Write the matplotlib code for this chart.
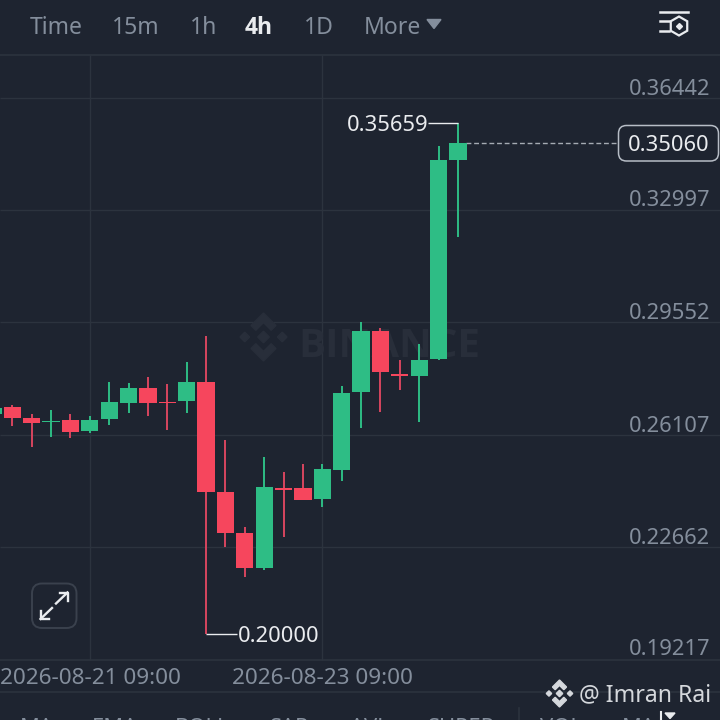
import matplotlib
matplotlib.use("Agg")
import matplotlib.pyplot as plt
from matplotlib.patches import FancyBboxPatch, Polygon, RegularPolygon

# ── Data ───────────────────────────────────────────────────────────────────────

opens = [0.26741, 0.26947, 0.26628, 0.26487, 0.26548, 0.26211, 0.26588, 0.27088, 0.27538, 0.27119,
         0.27131, 0.27722, 0.24360, 0.23085, 0.22021, 0.24464, 0.24473, 0.24127, 0.25025, 0.27407,
         0.29286, 0.27968, 0.27906, 0.28418, 0.34527]
closes = [0.26941, 0.26628, 0.26466, 0.26527, 0.26199, 0.26567, 0.27100, 0.27538, 0.27069, 0.27069,
          0.27732, 0.24360, 0.23085, 0.22012, 0.24513, 0.24412, 0.24106, 0.25047, 0.27385, 0.29276,
          0.28020, 0.27897, 0.28406, 0.34527, 0.35060]
highs = [0.26941, 0.27017, 0.26732, 0.26864, 0.26732, 0.26671, 0.27722, 0.27682, 0.27876, 0.27652,
         0.28345, 0.29141, 0.25935, 0.23287, 0.25414, 0.24955, 0.25200, 0.25200, 0.27600, 0.29552,
         0.29368, 0.28387, 0.28878, 0.34956, 0.35659]
lows = [0.26741, 0.26374, 0.25739, 0.26046, 0.25997, 0.26159, 0.26404, 0.26772, 0.26689, 0.26242,
        0.26772, 0.20000, 0.22674, 0.21755, 0.21969, 0.22981, 0.24106, 0.23900, 0.24688, 0.26303,
        0.26803, 0.27477, 0.26506, 0.28400, 0.32176]

price_ticks = [0.36442, 0.32997, 0.29552, 0.26107, 0.22662, 0.19217]
date_ticks = [5, 17]
date_labels = ["2026-08-21 09:00", "2026-08-23 09:00"]
last_price = 0.35060
high_mark = 0.35659
low_mark = 0.20000
tabs = ["Time", "15m", "1h", "4h", "1D", "More"]
indicators = ["MA", "EMA", "BOLL", "SAR", "AVL", "SUPER", "VOL", "MA"]

BG = "#1E2430"
GRID = "#2C333E"
GREEN = "#2EBD85"
RED = "#F6465D"
RED_WICK = "#D8455F"
MUTED = "#848E9C"
WHITE = "#EAECEF"
WATERMARK = "#282E3A"

plt.rcParams["font.family"] = ["Noto Sans", "DejaVu Sans"]
FS = 15.8

fig = plt.figure(figsize=(7.2, 7.2), dpi=100, facecolor=BG)

# ── Price panel: full figure, limits set so that prices land on the gridlines ──

ax = fig.add_axes([0, 0, 1, 1], facecolor=BG)
ax.set_xlim(0.366, 37.52)
ax.set_ylim(0.17363, 0.39431)
ax.axis("off")

ax.hlines(price_ticks[:-1], 0.366, 37.52, color=GRID, linewidth=1, zorder=1)
ax.vlines(date_ticks, 0.19217, 0.37745, color=GRID, linewidth=1, zorder=1)

# watermark text
ax.text(15.74, 0.2880, "BINANCE", color=WATERMARK, fontsize=29, fontweight="bold",
        family="Open Sans", ha="left", va="center", zorder=1.5)

for i, (o, c, h, l) in enumerate(zip(opens, closes, highs, lows)):
    up = c >= o
    ax.vlines(i, l, h, color=GREEN if up else RED_WICK, linewidth=1.4, zorder=2)
    ax.bar(i, abs(c - o), bottom=min(o, c), width=0.89, color=GREEN if up else RED, zorder=3)

# last price dashed line
ax.hlines(last_price, 24.4, 32.15, color="#A5ABB3", linewidth=1, linestyles=(0, (3.5, 2)), zorder=2)

# high / low callouts
ax.hlines(high_mark, 22.45, 24, color=WHITE, linewidth=1, zorder=4)
ax.hlines(low_mark, 11, 12.6, color=WHITE, linewidth=1, zorder=4)
ax.annotate(f"{high_mark:.5f}", (22.5, high_mark), xytext=(0, -1.5), textcoords="offset points",
            color=WHITE, fontsize=FS, ha="right", va="center", zorder=5)
ax.annotate(f"{low_mark:.5f}", (12.65, low_mark), xytext=(0, -1.5), textcoords="offset points",
            color=WHITE, fontsize=FS, ha="left", va="center", zorder=5)

# ── Interface chrome in pixel coordinates ──────────────────────────────────────

ui = fig.add_axes([0, 0, 1, 1], facecolor="none")
ui.set_xlim(0, 720)
ui.set_ylim(720, 0)
ui.axis("off")


def binance_logo(cx, cy, r, color, zorder=2):
    top = [(0, -1), (0.52, -0.48), (0.32, -0.28), (0, -0.6), (-0.32, -0.28), (-0.52, -0.48)]
    for sign in (1, -1):
        ui.add_patch(Polygon([(cx + x * r, cy + sign * y * r) for x, y in top], closed=True,
                             color=color, zorder=zorder))
    for dx, size in [(0, 0.24), (-0.78, 0.2), (0.78, 0.2)]:
        ui.add_patch(Polygon([(cx + dx * r, cy - size * r), (cx + (dx + size) * r, cy),
                              (cx + dx * r, cy + size * r), (cx + (dx - size) * r, cy)],
                             closed=True, color=color, zorder=zorder))


for yp in [55, 659.5, 692]:
    ui.plot([0, 720], [yp, yp], color=GRID, linewidth=1.2)

# y labels sit just above their gridlines
for p, yp in zip(price_ticks, [89.5, 200.5, 313.5, 426.5, 538.5, 649.5]):
    ui.text(710, yp, f"{p:.5f}", color=MUTED, fontsize=FS, ha="right", va="center")

for lab, xp in zip(date_labels, [90.5, 322.5]):
    ui.text(xp, 679, lab, color=MUTED, fontsize=16.2, ha="center", va="center")

for t, xp in zip(tabs, [30, 112, 190, 245, 304, 364]):
    active = t == "4h"
    ui.text(xp, 27.5, t, color=WHITE if active else MUTED, fontsize=16.5,
            fontweight="bold" if active else "normal",
            family="Open Sans" if active else "Noto Sans", ha="left", va="center")
ui.add_patch(Polygon([(427, 19.5), (441, 19.5), (434, 28.5)], closed=True, color=MUTED))

# top right settings icon
ui.plot([660, 688], [12, 12], color=WHITE, linewidth=1.8)
ui.plot([660, 669], [21, 21], color=WHITE, linewidth=1.8)
ui.plot([660, 669], [31, 31], color=WHITE, linewidth=1.8)
ui.add_patch(RegularPolygon((679, 26), 6, radius=9.5, fill=False, edgecolor=WHITE, linewidth=1.6))
ui.plot([679], [26], marker="D", color=WHITE, markersize=3)

# last price box
ui.add_patch(FancyBboxPatch((618.5, 125.5), 100, 35.5, boxstyle="round,pad=0,rounding_size=8",
                            facecolor=BG, edgecolor="#B7BDC6", linewidth=1.1))
ui.text(669, 145.5, f"{last_price:.5f}", color=WHITE, fontsize=FS, ha="center", va="center")

# expand button
ui.add_patch(FancyBboxPatch((32, 583.5), 44.5, 44.5, boxstyle="round,pad=0,rounding_size=10",
                            facecolor=BG, edgecolor="#3A414D", linewidth=1.4))
ui.plot([56, 67.5], [603.5, 592.5], color=WHITE, linewidth=1.7)
ui.plot([59.5, 67.5, 67.5], [592.5, 592.5, 600.5], color=WHITE, linewidth=1.7)
ui.plot([52, 40.5], [608, 619], color=WHITE, linewidth=1.7)
ui.plot([40.5, 40.5, 48.5], [611, 619, 619], color=WHITE, linewidth=1.7)

# logos
binance_logo(263.5, 337, 24, WATERMARK, zorder=0.5)
binance_logo(559.5, 693.5, 13.5, "#D5D8DC")
ui.text(579, 695.5, "@ Imran Rai", color="#D5D8DC", fontsize=16.6, ha="left", va="center")

# indicator tabs, cut off by the bottom edge as in the screenshot
for t, xp in zip(indicators, [20, 92, 175, 270, 350, 428, 540, 622]):
    ui.text(xp, 728.5, t, color=MUTED, fontsize=FS, ha="left", va="center", clip_on=True)
ui.plot([519, 519], [708, 720], color=GRID, linewidth=1.2)
ui.plot([661, 661], [712, 720], color=WHITE, linewidth=1.5)
ui.add_patch(Polygon([(665, 713), (675, 713), (670, 718.5)], closed=True, color=WHITE))

fig.savefig("out.png", dpi=100, facecolor=BG)
